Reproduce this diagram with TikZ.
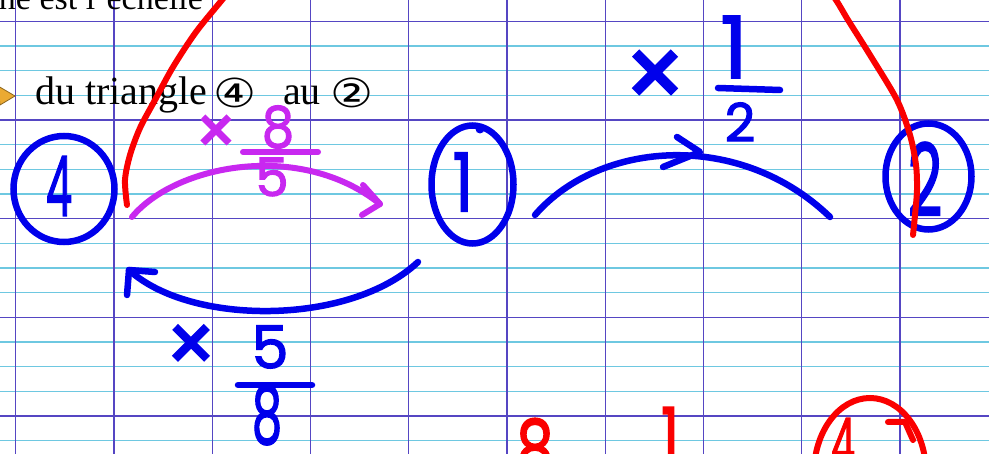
\documentclass[tikz,border=0pt]{standalone}
\usepackage{fontspec}
\usepackage{graphicx}
\usetikzlibrary{shapes.geometric}
\setmainfont{Liberation Serif}
\newfontfamily\hand{Poppins}[FakeBold=2]
\newfontfamily\dejavu{DejaVu Sans}
\definecolor{vline}{RGB}{85,70,195}
\definecolor{hline}{RGB}{110,200,225}
\definecolor{ink}{RGB}{0,0,235}
\definecolor{redink}{RGB}{250,0,0}
\definecolor{magink}{RGB}{200,40,240}
\definecolor{pencil}{RGB}{235,170,50}
\newcommand\hw[3]{\scalebox{#2}[1]{\fontsize{#1}{#1}\selectfont\hand #3}}
\begin{document}
\begin{tikzpicture}[x=1pt,y=-1pt,
  stroke/.style={line width=6.5pt,line cap=round,line join=round},
  bluestroke/.style={stroke,draw=ink},
  magstroke/.style={stroke,draw=magink,line width=6pt},
  redstroke/.style={stroke,draw=redink,line width=6pt},
  ring/.style={ellipse,draw=ink,line width=6.5pt,inner sep=0pt},
  redring/.style={ellipse,draw=redink,line width=6pt,inner sep=0pt},
  hwtext/.style={inner sep=0pt},
  print/.style={inner sep=0pt,font=\fontsize{40}{48}\selectfont},
  gridv/.style={draw=vline,line width=1.3pt},
  gridh/.style={draw=hline,line width=1.3pt}
]
\useasboundingbox (0,0) rectangle (989,454);
\clip (0,0) rectangle (989,454);
\fill[white] (0,0) rectangle (989,454);
% ruled paper
\foreach \j in {0,...,17} {
  \pgfmathtruncatemacro\mm{mod(\j,4)}
  \ifnum\mm=0
    \draw[gridv] (0,{21.5+24.65*\j}) -- (989,{21.5+24.65*\j});
  \else
    \draw[gridh] (0,{21.5+24.65*\j}) -- (989,{21.5+24.65*\j});
  \fi
}
\foreach \k in {0,...,9} {
  \draw[gridv] ({15.7+98.25*\k},0) -- ({15.7+98.25*\k},454);
}
% printed text
\node[inner sep=0pt,font=\fontsize{34}{40}\selectfont,anchor=base east] (toptext) at (203,10) {ne est l’échelle};
\filldraw[fill=pencil,draw=pencil!60!black,line width=0.8pt] (-2,86) -- (15,96) -- (0,105) -- cycle;
\node[print,anchor=base west] (du) at (35,105) {du triangle};
\node[inner sep=0pt] (q4) at (235,93) {\scalebox{1.2}[1]{\fontsize{40}{40}\selectfont\dejavu ④}};
\node[print,anchor=base west] (au) at (283,105) {au};
\node[inner sep=0pt] (q2) at (352,93) {\scalebox{1.2}[1]{\fontsize{40}{40}\selectfont\dejavu ②}};
% circled numbers
\node[ring,minimum width=101pt,minimum height=106pt] (c4) at (64,189) {};
\node[ring,minimum width=82pt,minimum height=118pt] (c1) at (472.5,184.5) {};
\node[ring,minimum width=86pt,minimum height=106pt] (c2) at (928.5,176.5) {};
\fill[ink] (480,129) circle (4.5pt);
\node[hwtext,text=ink] (d4) at (59,186) {\hw{83}{0.5}{4}};
\node[hwtext,text=ink] (d1) at (463,182) {\hw{81}{0.8}{1}};
\node[hwtext,text=ink] (d2) at (925,179) {\hw{100}{0.6}{2}};
% magenta arrow 4 -> 1
\coordinate (m1) at (132,217);
\coordinate (m2) at (380,204);
\draw[magstroke] (m1) .. controls (175,165) and (300,140) .. (m2);
\draw[magstroke] (m2) ++(-17,-19) -- (m2) -- ++(-18,11);
\node[hwtext,text=magink] (mx) at (216,135) {\hw{67}{1}{×}};
\node[hwtext,text=magink] (m8) at (278,127) {\hw{57}{0.9}{8}};
\draw[magstroke] (243,152) -- (318,152);
\node[hwtext,text=magink] (m5) at (272,177) {\hw{53}{1}{5}};
% blue arrow 1 -> 4
\coordinate (b1) at (418,262);
\coordinate (b2) at (129,270);
\draw[bluestroke] (b1) .. controls (350,326) and (190,326) .. (b2);
\draw[bluestroke] (b2) ++(26,2) -- (b2) -- ++(-2,25);
\node[hwtext,text=ink] (bx) at (191,349) {\hw{82}{1}{×}};
\node[hwtext,text=ink] (b5) at (270,347) {\hw{59}{1}{5}};
\draw[bluestroke] (238,385) -- (312,385);
\node[hwtext,text=ink] (b8) at (267,415) {\hw{80}{0.6}{8}};
% blue arc 1 -> 2
\coordinate (ta) at (535,215);
\coordinate (tb) at (830,217);
\coordinate (th) at (700,152);
\draw[bluestroke] (ta) .. controls (600,140) and (740,130) .. (tb);
\draw[bluestroke] (th) ++(-23,-15) -- (th) -- ++(-37,15);
\node[hwtext,text=ink] (tx) at (655,80) {\hw{100}{1}{×}};
\node[hwtext,text=ink] (t1) at (734,47) {\hw{86}{1}{1}};
\draw[bluestroke] (718,88) -- (780,90);
\node[hwtext,text=ink] (t2) at (740,122) {\hw{53}{1}{2}};
% red
\draw[redstroke] plot[smooth] coordinates {(127,205) (125,180) (130,155) (140,128) (155,100) (173,67) (196,32) (222,0) (245,-28)};
\draw[redstroke] plot[smooth] coordinates {(815,-30) (836,0) (848,20) (870,55) (897,100) (910,135) (916,165) (917,190) (915,215) (913,235)};
\node[hwtext,text=redink,anchor=north] (r8) at (535,418) {\hw{80}{0.75}{8}};
\node[hwtext,text=redink,anchor=north] (r1) at (670,407) {\hw{80}{0.7}{1}};
\node[redring,minimum width=112pt,minimum height=150pt] (rc) at (870,473) {};
\node[hwtext,text=redink,anchor=north] (r4) at (843,418) {\hw{70}{0.55}{4}};
\draw[redstroke] (888,422) -- (905,422) -- (913,440);
\end{tikzpicture}
\end{document}
